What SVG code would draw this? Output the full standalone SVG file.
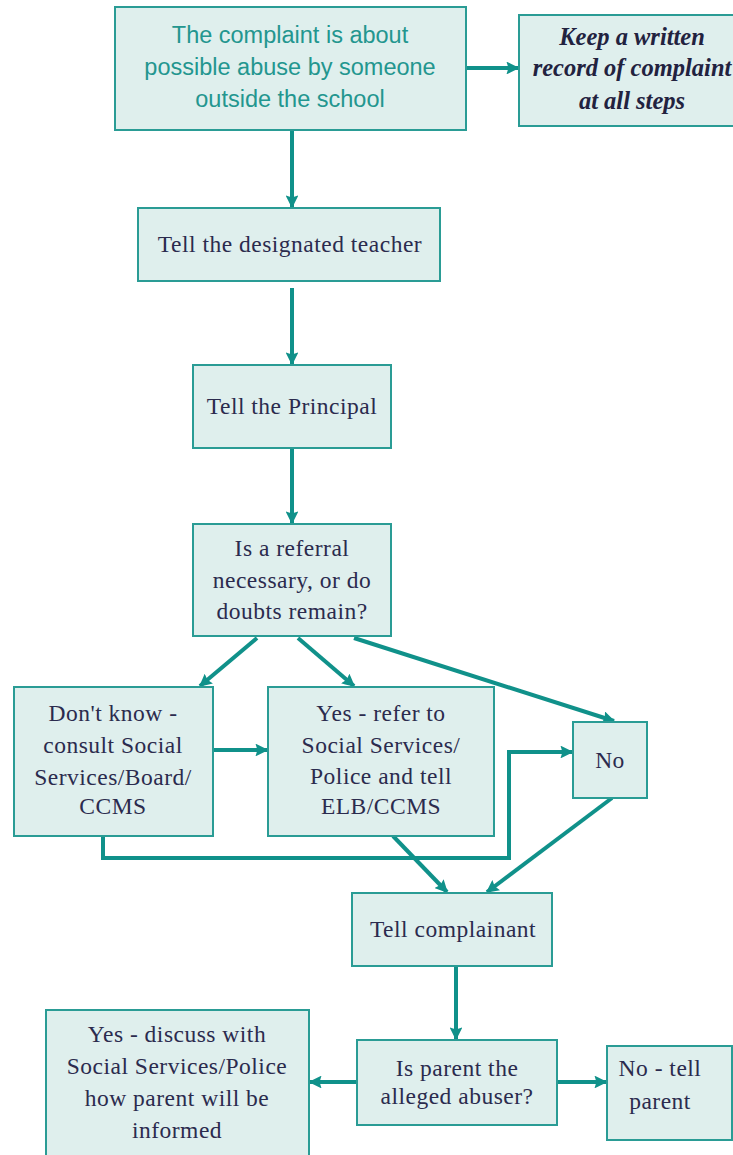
<svg xmlns="http://www.w3.org/2000/svg" width="733" height="1155" viewBox="0 0 733 1155">
<defs>
<marker id="ah" viewBox="0 0 10 10" refX="9" refY="5" markerWidth="3.2" markerHeight="3.2" markerUnits="strokeWidth" orient="auto">
<path d="M0,0 L3,1.5 L10,5 L3,8.5 L0,10 L1.5,5 Z" fill="#10918a"/>
</marker>
<style>
.box{fill:#dfefed;stroke:#2a9c95;stroke-width:2}
.t{font-family:"Liberation Serif",serif;font-size:23.5px;letter-spacing:0.5px;fill:#2b2b4e;text-anchor:middle}
.s{font-family:"Liberation Sans",Arial,sans-serif;font-size:23.5px;fill:#23968f;text-anchor:middle}
.i{font-family:"Liberation Serif",serif;font-size:24.5px;font-weight:bold;font-style:italic;fill:#22223f;text-anchor:middle}
.c{fill:none;stroke:#10918a;stroke-width:4}
</style>
</defs>
<rect width="733" height="1155" fill="#ffffff"/>
<g id="connectors">
<line class="c" x1="466" y1="68" x2="518" y2="68" marker-end="url(#ah)"/>
<line class="c" x1="292" y1="131" x2="292" y2="207" marker-end="url(#ah)"/>
<line class="c" x1="292" y1="288" x2="292" y2="364" marker-end="url(#ah)"/>
<line class="c" x1="292" y1="448" x2="292" y2="523" marker-end="url(#ah)"/>
<line class="c" x1="257" y1="638" x2="200" y2="686" marker-end="url(#ah)"/>
<line class="c" x1="298" y1="638" x2="354" y2="686" marker-end="url(#ah)"/>
<line class="c" x1="354" y1="638" x2="614" y2="721" marker-end="url(#ah)"/>
<line class="c" x1="213" y1="750" x2="267" y2="750" marker-end="url(#ah)"/>
<polyline class="c" points="103,836 103,858 509,858 509,752 572,752" marker-end="url(#ah)"/>
<line class="c" x1="393" y1="836" x2="447" y2="892" marker-end="url(#ah)"/>
<line class="c" x1="612" y1="798" x2="487" y2="892" marker-end="url(#ah)"/>
<line class="c" x1="456" y1="966" x2="456" y2="1039" marker-end="url(#ah)"/>
<line class="c" x1="357" y1="1082" x2="310" y2="1082" marker-end="url(#ah)"/>
<line class="c" x1="557" y1="1082" x2="606" y2="1082" marker-end="url(#ah)"/>
</g>
<g id="n1"><rect class="box" x="115" y="7" width="351" height="123"/>
<text class="s" x="290" y="43">The complaint is about</text>
<text class="s" x="290" y="75">possible abuse by someone</text>
<text class="s" x="290" y="107">outside the school</text></g>
<g id="n2"><rect class="box" x="519" y="15" width="222" height="111"/>
<text class="i" x="632" y="45">Keep a written</text>
<text class="i" x="632" y="76">record of complaint</text>
<text class="i" x="632" y="109">at all steps</text></g>
<g id="n3"><rect class="box" x="138" y="208" width="302" height="73"/>
<text class="t" x="290" y="252">Tell the designated teacher</text></g>
<g id="n4"><rect class="box" x="193" y="365" width="198" height="83"/>
<text class="t" x="292" y="414">Tell the Principal</text></g>
<g id="n5"><rect class="box" x="193" y="524" width="198" height="112"/>
<text class="t" x="292" y="556">Is a referral</text>
<text class="t" x="292" y="588">necessary, or do</text>
<text class="t" x="292" y="619">doubts remain?</text></g>
<g id="n6"><rect class="box" x="14" y="687" width="199" height="149"/>
<text class="t" x="113" y="721">Don't know -</text>
<text class="t" x="113" y="753">consult Social</text>
<text class="t" x="113" y="785">Services/Board/</text>
<text class="t" x="113" y="814">CCMS</text></g>
<g id="n7"><rect class="box" x="268" y="687" width="226" height="149"/>
<text class="t" x="381" y="721">Yes - refer to</text>
<text class="t" x="381" y="753">Social Services/</text>
<text class="t" x="381" y="784">Police and tell</text>
<text class="t" x="381" y="814">ELB/CCMS</text></g>
<g id="n8"><rect class="box" x="573" y="722" width="74" height="76"/>
<text class="t" x="610" y="768">No</text></g>
<g id="n9"><rect class="box" x="352" y="893" width="200" height="73"/>
<text class="t" x="453" y="937">Tell complainant</text></g>
<g id="n10"><rect class="box" x="46" y="1010" width="263" height="150"/>
<text class="t" x="177" y="1042">Yes - discuss with</text>
<text class="t" x="177" y="1074">Social Services/Police</text>
<text class="t" x="177" y="1106">how parent will be</text>
<text class="t" x="177" y="1138">informed</text></g>
<g id="n11"><rect class="box" x="357" y="1040" width="200" height="85"/>
<text class="t" x="457" y="1076">Is parent the</text>
<text class="t" x="457" y="1104">alleged abuser?</text></g>
<g id="n12"><rect class="box" x="607" y="1046" width="125" height="94"/>
<text class="t" x="660" y="1076">No - tell</text>
<text class="t" x="660" y="1109">parent</text></g>
</svg>
